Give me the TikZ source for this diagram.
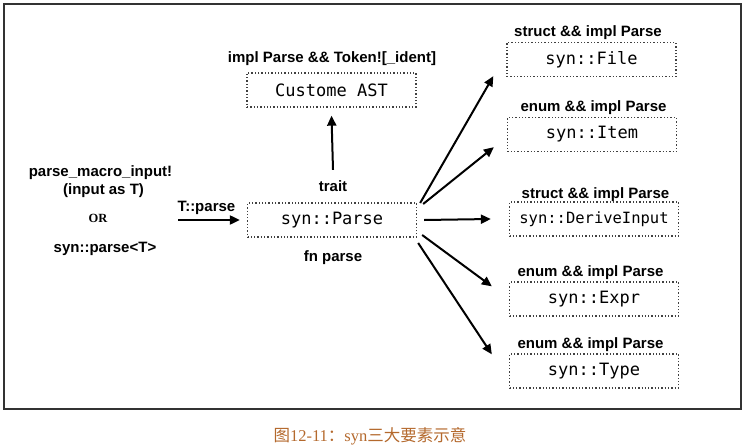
\documentclass[tikz,border=0pt]{standalone}
\usepackage{fontspec}
\setmainfont{Liberation Serif}
\setsansfont{Liberation Sans}
\setmonofont{DejaVu Sans Mono}
\newfontfamily\cjk{Noto Sans CJK SC}
\usepackage{tikz}
\usetikzlibrary{arrows.meta}
\definecolor{captionbrown}{RGB}{180,105,45}

\begin{document}
\begin{tikzpicture}[x=1pt, y=-1pt,
    box/.style={draw=black!75, line width=1.3pt, dotted, minimum width=169pt, minimum height=34pt,
      inner sep=0pt, font=\ttfamily\fontsize{17}{20}\selectfont},
    lbl/.style={font=\sffamily\bfseries\fontsize{15}{18}\selectfont, inner sep=0pt, anchor=base},
    orlbl/.style={font=\rmfamily\bfseries\fontsize{12.5}{15}\selectfont, inner sep=0pt, anchor=base},
    arr/.style={-{Triangle[length=10pt,width=9pt]}, line width=2pt}]
  \useasboundingbox (0,0) rectangle (746,447);
  \draw[draw=black!80, line width=2pt] (4,4) rectangle (741,409);

  \node[box] (ast) at (331.5,90) {Custome AST};
  \node[box] (parse) at (332,220) {syn::Parse};
  \node[box] (file) at (591.5,59.5) {syn::File};
  \node[box] (item) at (592,134.5) {syn::Item};
  \node[box, font=\ttfamily\fontsize{15.5}{18}\selectfont] (derive) at (594,219) {syn::DeriveInput};
  \node[box] (expr) at (594,299) {syn::Expr};
  \node[box] (type) at (594,371) {syn::Type};

  \node[lbl] (astLbl) at (332,62) {impl Parse \&\& Token![\_ident]};
  \node[lbl] (trait) at (333,191) {trait};
  \node[lbl] (fnParse) at (333,261) {fn parse};
  \node[lbl] (fileLbl) at (588,36) {struct \&\& impl Parse};
  \node[lbl] (itemLbl) at (593.5,111) {enum \&\& impl Parse};
  \node[lbl] (deriveLbl) at (595.5,198) {struct \&\& impl Parse};
  \node[lbl] (exprLbl) at (590.5,276) {enum \&\& impl Parse};
  \node[lbl] (typeLbl) at (590.5,348) {enum \&\& impl Parse};

  \node[lbl] (macroA) at (100.5,176) {parse\_macro\_input!};
  \node[lbl] (macroB) at (103.5,194.5) {(input as T)};
  \node[orlbl] (or) at (98,222) {OR};
  \node[lbl] (synParse) at (105,252) {syn::parse<T>};
  \node[lbl] (tParse) at (206.5,211.5) {T::parse};
  \coordinate (tIn) at (178,220);

  \draw[arr] (tIn) -- ([xshift=-7pt]parse.west);
  \draw[arr] ([yshift=10pt]trait.north) -- ([yshift=-8pt]ast.south);
  \draw[arr] ([xshift=3pt,yshift=17pt]parse.east) -- ([xshift=-13pt,yshift=1pt]file.south west);
  \draw[arr] ([xshift=6pt,yshift=16pt]parse.east) -- ([xshift=-13pt,yshift=5pt]item.south west);
  \draw[arr] ([xshift=7pt]parse.east) -- ([xshift=-18pt]derive.west);
  \draw[arr] ([xshift=5pt,yshift=-15pt]parse.east) -- ([xshift=-17pt,yshift=-5pt]expr.north west);
  \draw[arr] ([xshift=1pt,yshift=-23pt]parse.east) -- ([xshift=-17pt,yshift=-1pt]type.north west);

  \node[anchor=base, inner sep=0pt, text=captionbrown, font=\fontsize{16.5}{20}\selectfont] (caption) at (370,441)
    {{\cjk 图}12-11{\cjk ：}syn{\cjk 三大要素示意}};
\end{tikzpicture}
\end{document}
